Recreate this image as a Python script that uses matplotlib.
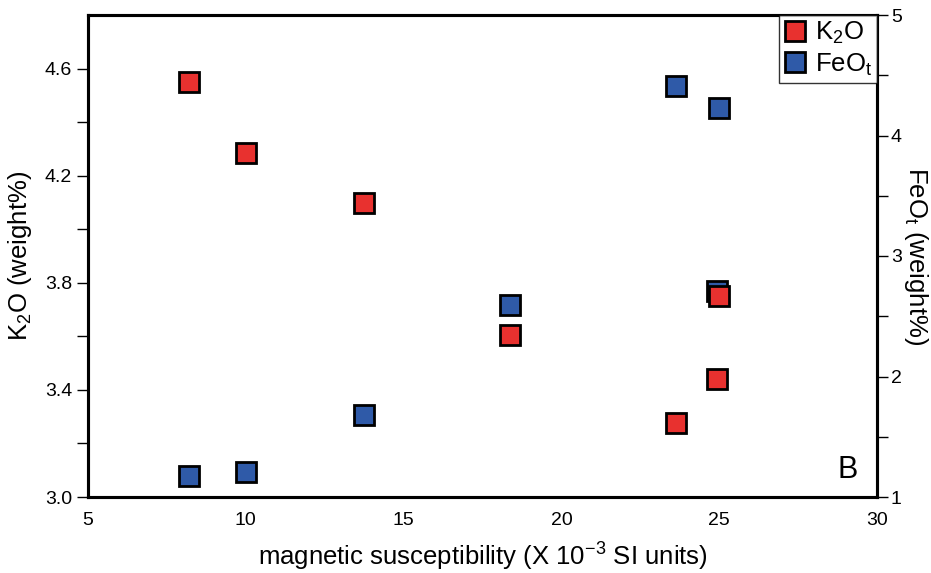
import matplotlib
matplotlib.use("Agg")
import matplotlib.pyplot as plt
from matplotlib.ticker import MultipleLocator, FixedLocator

plt.rcParams['font.family'] = ['Liberation Sans', 'DejaVu Sans']
plt.rcParams['mathtext.fontset'] = 'custom'
plt.rcParams['mathtext.rm'] = 'Liberation Sans'
plt.rcParams['mathtext.it'] = 'Liberation Sans'

mag_sus = [8.2, 10.0, 13.75, 18.37, 23.63, 24.93, 24.99]
k2o = [4.548, 4.286, 4.099, 3.606, 3.277, 3.441, 3.751]
mag_sus_fe = [8.2, 10.0, 13.75, 18.37, 23.63, 24.93, 24.99]
feot = [1.174, 1.207, 1.68, 2.593, 4.41, 2.71, 4.228]

k2o_ticks = [3.0, 3.4, 3.8, 4.2, 4.6]
k2o_minor = [3.2, 3.6, 4.0, 4.4]
feot_ticks = [1, 2, 3, 4, 5]
x_ticks = [5, 10, 15, 20, 25, 30]

red = '#e8312f'
blue = '#2f5aa8'

fig = plt.figure(figsize=(9.31, 5.73), dpi=100)
ax = fig.add_axes([88/931, 1-497/573, (877-88)/931, (497-15)/573])
ax2 = ax.twinx()

ms = 14
h2 = ax2.plot(mag_sus_fe, feot, 's', color=blue, markersize=ms, markeredgecolor='black',
              markeredgewidth=2, label=r'FeO$_\mathregular{t}$', zorder=2)
h1 = ax.plot(mag_sus, k2o, 's', color=red, markersize=ms, markeredgecolor='black',
             markeredgewidth=2, label=r'K$_\mathregular{2}$O', zorder=3)
ax.set_zorder(ax2.get_zorder() + 1)
ax.patch.set_visible(False)

ax.set_xlim(5, 30)
ax.set_ylim(3.0, 4.8)
ax2.set_ylim(1, 5)

ax.xaxis.set_major_locator(FixedLocator(x_ticks))
ax.yaxis.set_major_locator(FixedLocator(k2o_ticks))
ax.yaxis.set_minor_locator(FixedLocator(k2o_minor))
ax2.yaxis.set_major_locator(FixedLocator(feot_ticks))
ax2.yaxis.set_minor_locator(MultipleLocator(0.5))
ax.yaxis.set_major_formatter(matplotlib.ticker.FormatStrFormatter('%.1f'))

for a in (ax, ax2):
    for s in a.spines.values():
        s.set_linewidth(2.2)
ax.tick_params(axis='x', length=0, labelsize=14, pad=11)
ax.tick_params(axis='y', which='both', direction='out', labelsize=14, width=1, length=8)
ax2.tick_params(axis='y', which='both', direction='out', labelsize=14, width=1, length=8, pad=2)

ax.set_xlabel(r'magnetic susceptibility (X 10$^\mathregular{-3}$ SI units)', fontsize=18.5, labelpad=8)
ax.set_ylabel(r'K$_\mathregular{2}$O (weight%)', fontsize=18.5, labelpad=8)
ax2.set_ylabel(r'FeO$_\mathregular{t}$ (weight%)', fontsize=18.5, rotation=270, labelpad=20)

ax.text(0.975, 0.025, 'B', transform=ax.transAxes, fontsize=22, ha='right', va='bottom')

leg = ax.legend(handles=h1 + h2, loc='upper right', fontsize=18.5, frameon=True, fancybox=False,
                borderaxespad=0, handletextpad=0.3, borderpad=0.2, labelspacing=0.2,
                handlelength=0.9, markerscale=1.0)
leg.get_frame().set_edgecolor('black')
leg.get_frame().set_linewidth(1)

fig.savefig('out.png', dpi=100)
